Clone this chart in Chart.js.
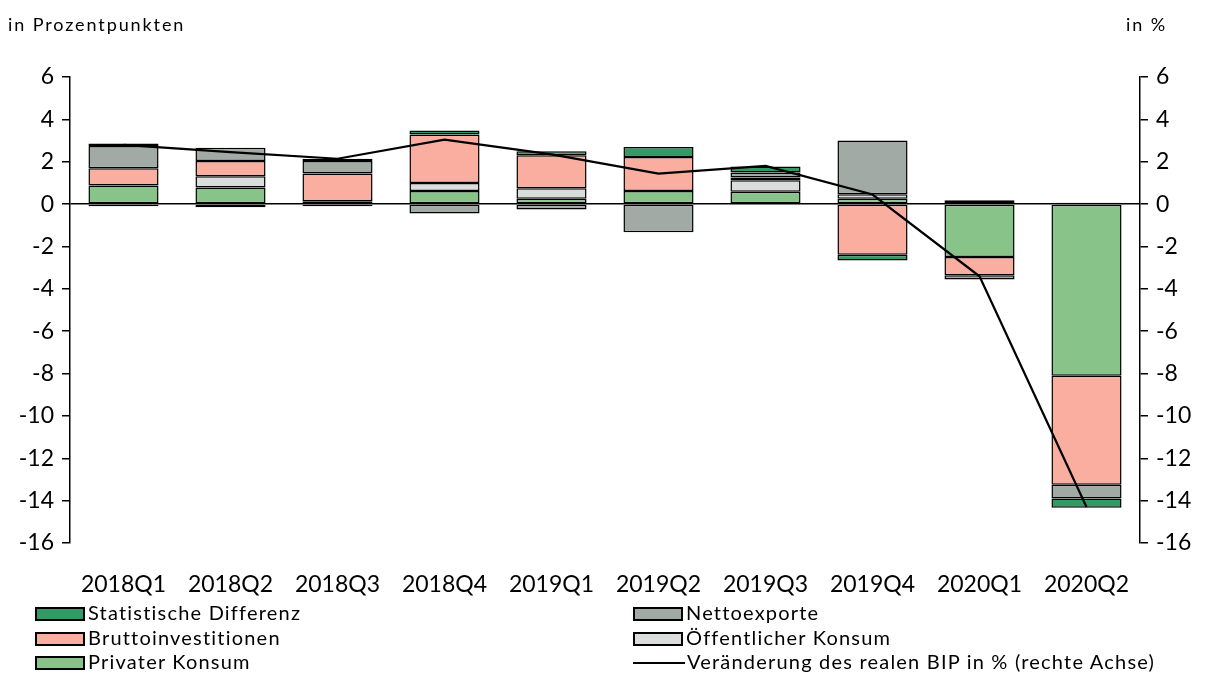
<!DOCTYPE html>
<html>
<head>
<meta charset="utf-8">
<script src="https://cdn.jsdelivr.net/npm/chart.js@4.4.0/dist/chart.umd.min.js"></script>
<style>
  body { margin: 0; background: #fff; font-family: Lato, sans-serif; }
  #wrap { position: relative; width: 1210px; height: 684px; }
  canvas { position: absolute; left: 0; top: 0; }
  .note { position: absolute; font-size: 18px; letter-spacing: 1.9px; color: #000; }
  .leg { position: absolute; font-size: 20px; letter-spacing: 1.2px; color: #000; line-height: 20px; white-space: nowrap; }
  .leg .box { display: inline-block; width: 50px; height: 14px; border: 2px solid #000; vertical-align: -1px; margin-right: 3px; box-sizing: border-box; }
  .leg .ln { display: inline-block; width: 52px; height: 2px; background: #000; vertical-align: 5px; margin-right: 2px; }
</style>
</head>
<body>
<div id="wrap">
  <canvas id="c" width="1210" height="684"></canvas>
  <div class="note" style="left:8px; top:13px;">in Prozentpunkten</div>
  <div class="note" style="left:1126px; top:13px;">in %</div>
  <div class="leg" style="left:35px; top:602px;"><span class="box" style="background:#339965"></span>Statistische Differenz</div>
  <div class="leg" style="left:35px; top:627px;"><span class="box" style="background:#f9aea0"></span>Bruttoinvestitionen</div>
  <div class="leg" style="left:35px; top:651px;"><span class="box" style="background:#88c48a"></span>Privater Konsum</div>
  <div class="leg" style="left:633px; top:602px;"><span class="box" style="background:#a2aaa5"></span>Nettoexporte</div>
  <div class="leg" style="left:633px; top:627px;"><span class="box" style="background:#d9dedc"></span>Öffentlicher Konsum</div>
  <div class="leg" style="left:633px; top:651px;"><span class="ln"></span>Veränderung des realen BIP in % (rechte Achse)</div>
</div>
<script>
const categories = ['2018Q1', '2018Q2', '2018Q3', '2018Q4', '2019Q1', '2019Q2', '2019Q3', '2019Q4', '2020Q1', '2020Q2'];
const privaterKonsum = [0.88, 0.78, 0.14, 0.62, 0.25, 0.62, 0.58, 0.25, -2.5, -8.1];
const oeffentlicherKonsum = [-0.1, 0.53, -0.1, 0.38, 0.5, 0.0, 0.55, 0.22, 0.1, 0.06];
const bruttoinvestitionen = [0.81, 0.72, 1.3, 2.28, 1.55, 1.6, 0.12, -2.39, -0.86, -5.15];
const nettoexporte = [1.05, 0.63, 0.6, -0.44, -0.25, -1.33, 0.24, 2.53, -0.2, -0.65];
const statDifferenz = [0.12, -0.15, 0.1, 0.19, 0.2, 0.47, 0.28, -0.27, 0.08, -0.43];
const bipVeraenderung = [2.8, 2.45, 2.14, 3.04, 2.35, 1.44, 1.8, 0.45, -3.41, -14.3];

const tickFont = { family: 'Lato', size: 23 };

function barSet(label, data, color) {
    return {
        type: 'bar',
        label: label,
        data: data,
        backgroundColor: color,
        borderColor: '#000',
        borderWidth: 1.5,
        borderSkipped: false,
        yAxisID: 'y',
        order: 1,
        barPercentage: 0.655,
        categoryPercentage: 1
    };
}

new Chart(document.getElementById('c'), {
    data: {
        labels: categories,
        datasets: [
            barSet('Privater Konsum', privaterKonsum, '#88c48a'),
            barSet('Öffentlicher Konsum', oeffentlicherKonsum, '#d9dedc'),
            barSet('Bruttoinvestitionen', bruttoinvestitionen, '#f9aea0'),
            barSet('Nettoexporte', nettoexporte, '#a2aaa5'),
            barSet('Statistische Differenz', statDifferenz, '#339965'),
            {
                type: 'line',
                label: 'Veränderung des realen BIP in % (rechte Achse)',
                data: bipVeraenderung,
                borderColor: '#000',
                borderWidth: 2.2,
                pointRadius: 0,
                tension: 0,
                fill: false,
                yAxisID: 'y2',
                order: 0
            }
        ]
    },
    options: {
        responsive: false,
        animation: false,
        layout: { padding: { top: 77, bottom: 0, left: 0, right: 0 } },
        plugins: { legend: { display: false }, tooltip: { enabled: false } },
        scales: {
            x: {
                stacked: true,
                offset: true,
                grid: { display: false },
                border: { display: false },
                ticks: { color: '#000', font: tickFont, padding: 20, maxRotation: 0 },
                afterFit: function (axis) { axis.height = 141; }
            },
            y: {
                position: 'left',
                stacked: true,
                min: -16,
                max: 6,
                ticks: { stepSize: 2, color: '#000', font: tickFont, padding: 8 },
                grid: {
                    drawOnChartArea: true,
                    color: function (ctx) { return ctx.tick && ctx.tick.value === 0 ? '#000' : 'rgba(0,0,0,0)'; },
                    tickColor: '#000',
                    tickLength: 8,
                    lineWidth: 1.5
                },
                border: { display: true, color: '#000', width: 1.5 },
                afterFit: function (axis) { axis.width = 70; }
            },
            y2: {
                position: 'right',
                min: -16,
                max: 6,
                ticks: { stepSize: 2, color: '#000', font: tickFont, padding: 8 },
                grid: { drawOnChartArea: false, tickColor: '#000', tickLength: 8, lineWidth: 1.5 },
                border: { display: true, color: '#000', width: 1.5 },
                afterFit: function (axis) { axis.width = 70; }
            }
        }
    }
});
</script>
</body>
</html>
